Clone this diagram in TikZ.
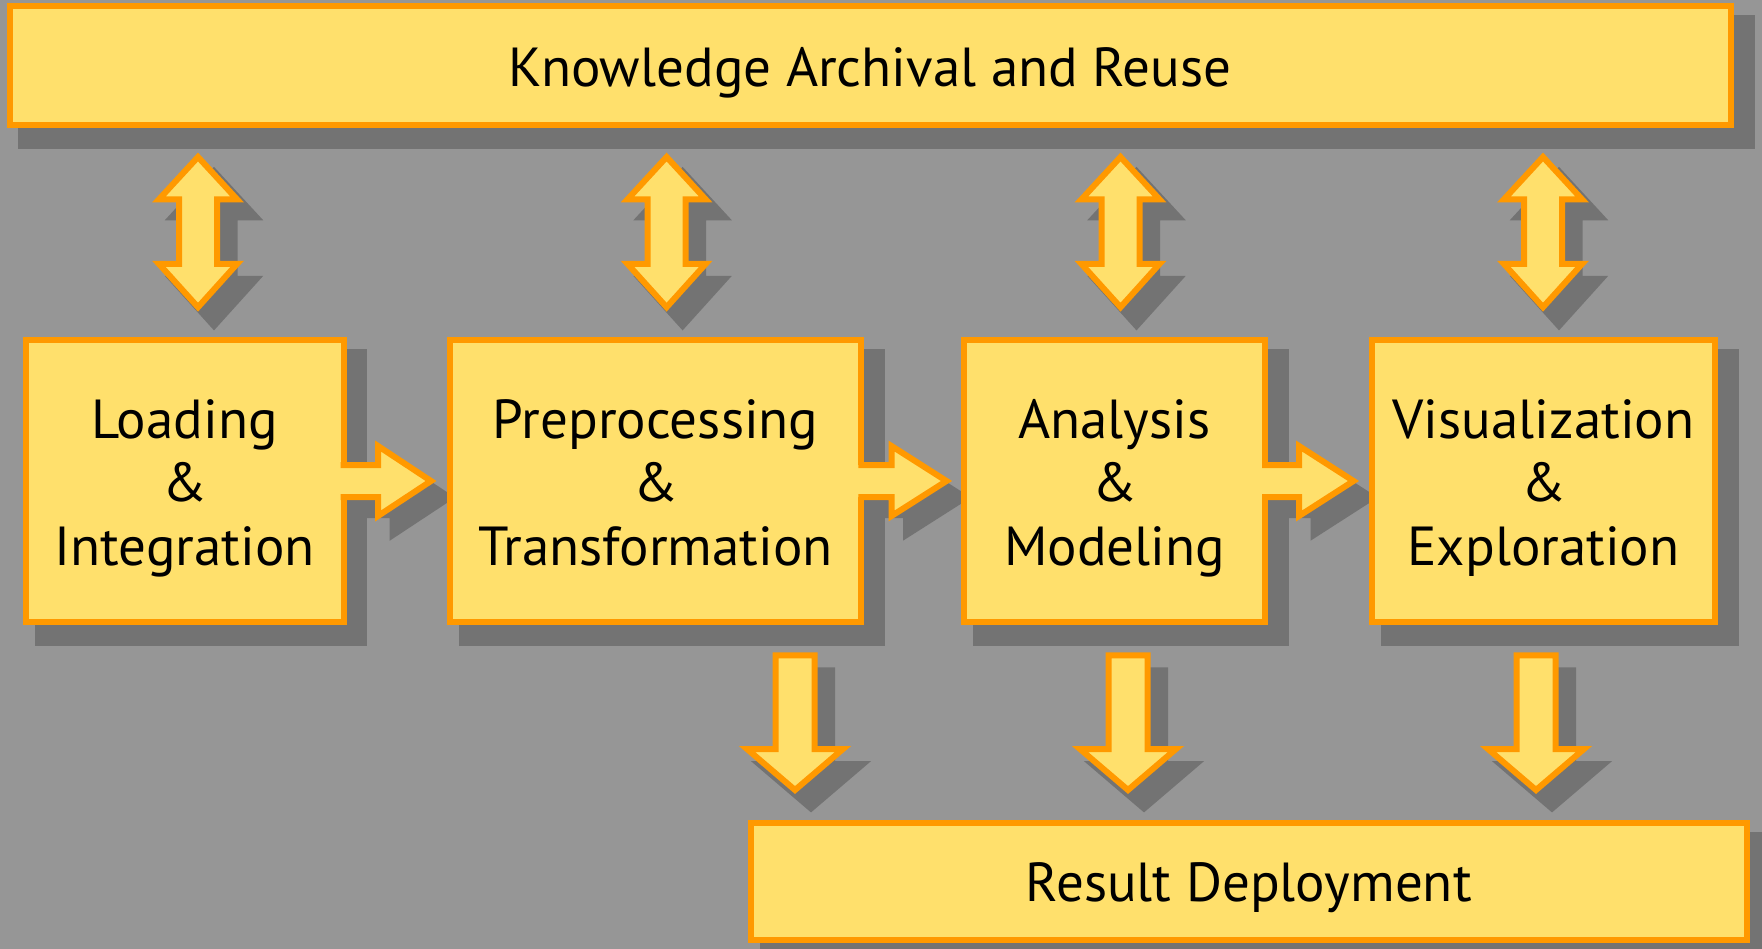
\documentclass[tikz,border=0pt]{standalone}
\usepackage{fontspec}
\setmainfont{PT Sans}
\usetikzlibrary{calc}
\definecolor{bgc}{HTML}{969696}
\definecolor{shc}{HTML}{737373}
\definecolor{yel}{HTML}{FFE06C}
\definecolor{org}{HTML}{FF9900}
\pgfdeclarelayer{back}
\pgfdeclarelayer{shade}
\pgfsetlayers{back,shade,main}
\newcommand\ShX{16}
\newcommand\ShY{16.5}
\tikzset{
  stagebox/.style={draw=org, fill=yel, line width=6pt, rectangle, inner sep=0pt},
  stagetext/.style={inner sep=0pt, align=center, text=black,
    font=\fontsize{55pt}{63.5pt}\selectfont},
  shadefill/.style={fill=shc, draw=shc, line width=9pt, line join=miter},
  arrowfill/.style={fill=yel},
  arrowline/.style={draw=org, line width=6pt, line join=miter},
}
% box shadow
\newcommand\BoxShade[1]{%
  \begin{pgfonlayer}{shade}
    \path[shadefill] ($(#1.north west)+(\ShX,\ShY)$) rectangle ($(#1.south east)+(\ShX,\ShY)$);
  \end{pgfonlayer}}
% right block arrow: tail, base, tip, cy
\newcommand\RArrow[4]{%
  \begin{pgfonlayer}{shade}
    \path[shadefill,shift={(\ShX,\ShY)}] (#1,#4-16) -- (#2,#4-16) -- (#2,#4-35) -- (#3,#4)
      -- (#2,#4+35) -- (#2,#4+16) -- (#1,#4+16) -- cycle;
  \end{pgfonlayer}
  \path[arrowfill] (#1-3.5,#4-16) -- (#2,#4-16) -- (#2,#4-35) -- (#3,#4)
      -- (#2,#4+35) -- (#2,#4+16) -- (#1-3.5,#4+16) -- cycle;
  \path[arrowline] (#1-3,#4-16) -- (#2,#4-16) -- (#2,#4-35) -- (#3,#4)
      -- (#2,#4+35) -- (#2,#4+16) -- (#1-3,#4+16);}
% vertical double block arrow: cx
\newcommand\DArrow[1]{%
  \begin{pgfonlayer}{shade}
    \path[shadefill,shift={(\ShX,\ShY)}] (#1,157) -- (#1+39,199.3) -- (#1+19,199.3) -- (#1+19,264)
      -- (#1+39,264) -- (#1,307.2) -- (#1-39,264) -- (#1-19,264) -- (#1-19,199.3)
      -- (#1-39,199.3) -- cycle;
  \end{pgfonlayer}
  \path[arrowfill,arrowline] (#1,157) -- (#1+39,199.3) -- (#1+19,199.3) -- (#1+19,264)
      -- (#1+39,264) -- (#1,307.2) -- (#1-39,264) -- (#1-19,264) -- (#1-19,199.3)
      -- (#1-39,199.3) -- cycle;}
% down block arrow: cx
\newcommand\DnArrow[1]{%
  \begin{pgfonlayer}{shade}
    \path[shadefill,shift={(\ShX,\ShY)}] (#1-19.5,655.3) -- (#1+19.5,655.3) -- (#1+19.5,749)
      -- (#1+48,749) -- (#1,790) -- (#1-48,749) -- (#1-19.5,749) -- cycle;
  \end{pgfonlayer}
  \path[arrowfill,arrowline] (#1-19.5,655.3) -- (#1+19.5,655.3) -- (#1+19.5,749)
      -- (#1+48,749) -- (#1,790) -- (#1-48,749) -- (#1-19.5,749) -- cycle;}

\begin{document}
\begin{tikzpicture}[x=1pt,y=-1pt]
\begin{pgfonlayer}{back}
  \fill[bgc] (0,0) rectangle (1762,949);
\end{pgfonlayer}
\useasboundingbox (0,0) rectangle (1762,949);

\node[stagebox, minimum width=1721.5pt, minimum height=119pt] (know) at (870.25,65.5) {};
\node[stagebox, minimum width=317.5pt, minimum height=282pt] (load) at (184.75,481) {};
\node[stagebox, minimum width=411.4pt, minimum height=282pt] (prep) at (655.7,481) {};
\node[stagebox, minimum width=301pt, minimum height=282pt] (anal) at (1114.5,481) {};
\node[stagebox, minimum width=343pt, minimum height=282pt] (vis) at (1543.5,481) {};
\node[stagebox, minimum width=995.6pt, minimum height=117.5pt] (res) at (1248.8,881.25) {};

\node[stagetext] (knowT) at ($(know.center)+(0,8)$) {\strut Knowledge Archival and Reuse};
\node[stagetext] (loadT) at ($(load.center)+(0,8)$) {\strut Loading\\\strut\&\\\strut Integration};
\node[stagetext] (prepT) at ($(prep.center)+(0,8)$) {\strut Preprocessing\\\strut\&\\\strut Transformation};
\node[stagetext] (analT) at ($(anal.center)+(0,8)$) {\strut Analysis\\\strut\&\\\strut Modeling};
\node[stagetext] (visT) at ($(vis.center)+(0,8)$) {\strut Visualization\\\strut\&\\\strut Exploration};
\node[stagetext] (resT) at ($(res.center)+(0,8)$) {\strut Result Deployment};

\BoxShade{know}
\BoxShade{load}
\BoxShade{prep}
\BoxShade{anal}
\BoxShade{vis}
\BoxShade{res}

\DArrow{198}
\DArrow{666.6}
\DArrow{1120.5}
\DArrow{1543}

\RArrow{343.5}{378}{431}{481}
\RArrow{861.4}{891.5}{946.5}{481}
\RArrow{1265}{1299}{1353.5}{481}

\DnArrow{795}
\DnArrow{1128}
\DnArrow{1536}
\end{tikzpicture}
\end{document}
